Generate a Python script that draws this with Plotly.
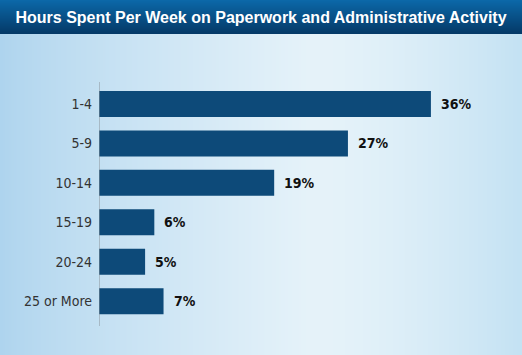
import base64, struct, zlib
import numpy as np
import plotly.graph_objects as go

categories = ["1-4", "5-9", "10-14", "15-19", "20-24", "25 or More"]
values = [36, 27, 19, 6, 5, 7]
value_labels = ["36%", "27%", "19%", "6%", "5%", "7%"]
title_text = "Hours Spent Per Week on Paperwork and Administrative Activity"

W, H = 522, 355
ML, MR, MT, MB = 99, 10, 82, 29
PW, PH = W - ML - MR, H - MT - MB
COND = "DejaVu Sans Condensed, Liberation Sans Narrow, Arial Narrow, sans-serif"


def make_bg():
    xs = np.linspace(0, 1, W)[None, :]
    ys = np.linspace(0, 1, H)[:, None]
    left = np.array([174, 212, 238], float)
    mid = np.array([230, 243, 250], float)
    right = np.array([196, 226, 243], float)
    t1 = np.clip(xs / 0.6, 0, 1) ** 0.8
    t2 = np.clip((xs - 0.6) / 0.4, 0, 1) ** 1.5
    img = np.zeros((H, W, 3))
    for c in range(3):
        base = left[c] + (mid[c] - left[c]) * t1
        base = base + (right[c] - mid[c]) * t2
        img[:, :, c] = base + 0 * ys
    tb = 34
    top = np.array([12, 104, 168], float)
    bot = np.array([5, 58, 104], float)
    tt = np.linspace(0, 1, tb)[:, None]
    for c in range(3):
        img[:tb, :, c] = top[c] + (bot[c] - top[c]) * tt
    img = np.clip(img, 0, 255).astype(np.uint8)
    raw = b"".join(b"\x00" + img[r].tobytes() for r in range(H))

    def chunk(tag, data):
        return struct.pack(">I", len(data)) + tag + data + struct.pack(">I", zlib.crc32(tag + data) & 0xFFFFFFFF)

    png = b"\x89PNG\r\n\x1a\n" + chunk(b"IHDR", struct.pack(">IIBBBBB", W, H, 8, 2, 0, 0, 0)) \
        + chunk(b"IDAT", zlib.compress(raw, 9)) + chunk(b"IEND", b"")
    return "data:image/png;base64," + base64.b64encode(png).decode()


fig = go.Figure()
fig.add_trace(go.Bar(
    x=values, y=categories, orientation="h",
    marker=dict(color="#0d4a79", line=dict(width=0)),
    width=0.66, hoverinfo="skip",
))

for cat, v, lab in zip(categories, values, value_labels):
    fig.add_annotation(x=v, y=cat, text="<b>" + lab + "</b>", showarrow=False, xanchor="left", xshift=8,
                       font=dict(family=COND, size=14, color="#111111"))

fig.update_layout(
    width=W, height=H,
    margin=dict(l=ML, r=MR, t=MT, b=MB, pad=0),
    paper_bgcolor="white", plot_bgcolor="rgba(0,0,0,0)",
    showlegend=False,
    title=dict(text="<b>" + title_text + "</b>", x=0.5, xanchor="center", xref="container",
               y=1 - 17 / H, yref="container", yanchor="middle",
               font=dict(family="Liberation Sans, Arial", size=16, color="white")),
    images=[dict(source=make_bg(), xref="paper", yref="paper",
                 x=-ML / PW, y=1 + MT / PH, sizex=W / PW, sizey=H / PH,
                 xanchor="left", yanchor="top", sizing="stretch", layer="below")],
    xaxis=dict(range=[0, PW / 9.22], visible=False, fixedrange=True),
    yaxis=dict(range=[5.63, -0.557], showgrid=False, zeroline=False, ticks="",
               showline=False, ticklabelstandoff=6, fixedrange=True,
               tickfont=dict(family=COND, size=14, color="#333333")),
    shapes=[dict(type="line", xref="x", yref="paper", x0=0, x1=0, y0=0, y1=1,
                 line=dict(color="#8a9199", width=1))],
)

fig.write_html("out.html", config={"displayModeBar": False, "staticPlot": True},
               post_script="document.body.style.margin='0';")
